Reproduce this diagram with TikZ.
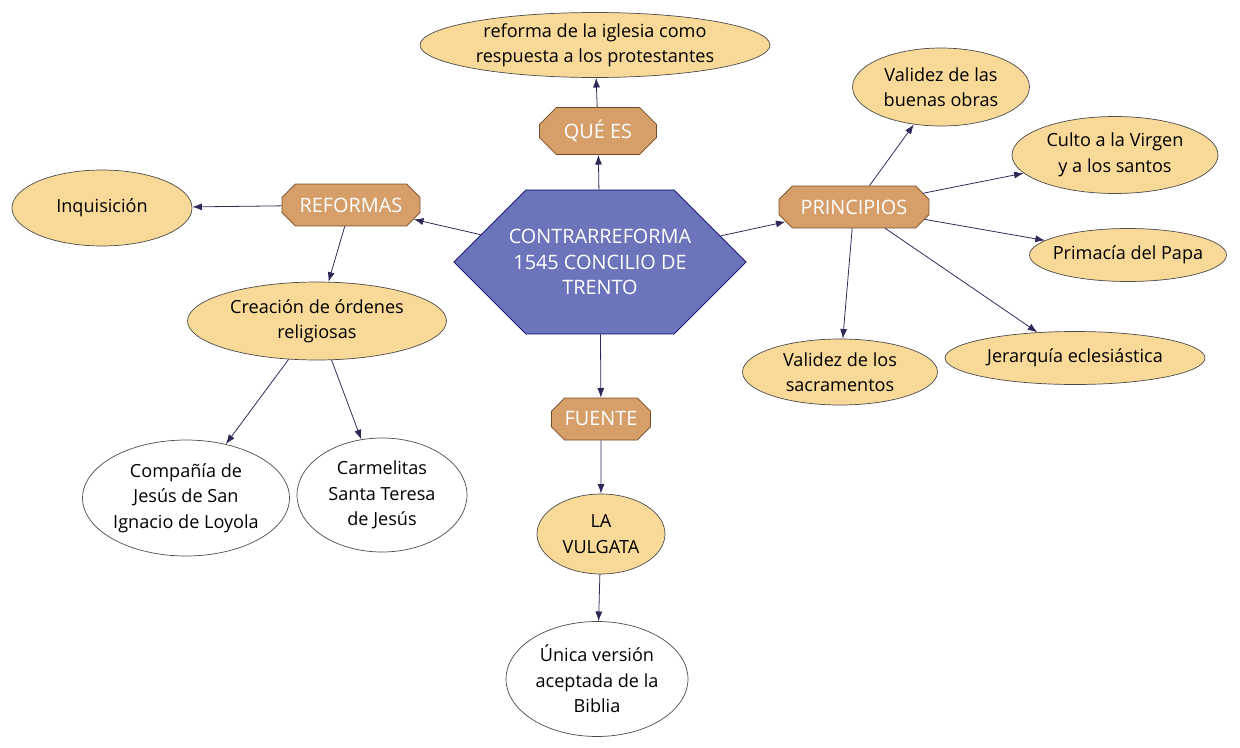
\documentclass[tikz,border=0pt]{standalone}
\usepackage{fontspec}
\setmainfont{Open Sans}
\usetikzlibrary{shapes.geometric,shapes.misc,shapes.symbols,arrows.meta}
\definecolor{arena}{HTML}{F8D998}
\definecolor{tostado}{HTML}{D69F6A}
\definecolor{lila}{HTML}{6C75BB}
\definecolor{tinta}{HTML}{2E2858}
\begin{document}
\begin{tikzpicture}[x=0.02cm,y=-0.02cm,
  idea/.style={ellipse,draw=black!70,fill=arena,inner sep=0pt,align=center,font=\fontsize{10.3}{14.5}\selectfont},
  nota/.style={idea,fill=white},
  enlace/.style={chamfered rectangle,chamfered rectangle xsep=0.28cm,chamfered rectangle ysep=0.12cm,
    draw=brown!60!black,fill=tostado,text=white,inner sep=0pt,font=\fontsize{11.3}{14.5}\selectfont},
  flecha/.style={draw=tinta,line width=0.45pt,-{Latex[length=5.5pt,width=4pt]}}]
\useasboundingbox (0,0) rectangle (1240,747);

\node[signal,signal to=west and east,signal pointer angle=90,draw=blue!40!black,fill=lila,text=white,
  minimum height=2.88cm,inner ysep=0pt,inner xsep=-0.34cm,align=center,
  font=\fontsize{11.3}{14.5}\selectfont] (centro) at (600,262) {CONTRARREFORMA\\1545 CONCILIO DE\\TRENTO};

\node[enlace,minimum width=2.34cm,minimum height=0.94cm] (quees) at (598,131) {QUÉ ES};
\node[enlace,minimum width=2.76cm,minimum height=0.84cm] (reformas) at (351,205) {REFORMAS};
\node[enlace,minimum width=1.98cm,minimum height=0.84cm] (fuente) at (601,419) {FUENTE};
\node[enlace,minimum width=3.0cm,minimum height=0.84cm] (principios) at (854,207) {PRINCIPIOS};

\node[idea,minimum width=7cm,minimum height=1.3cm] (respuesta) at (595,45) {reforma de la iglesia como\\respuesta a los protestantes};
\node[idea,minimum width=3.6cm,minimum height=1.52cm] (inquisicion) at (102,208) {Inquisición};
\node[idea,minimum width=5.18cm,minimum height=1.56cm] (ordenes) at (317,321) {Creación de órdenes\\religiosas};
\node[nota,minimum width=4.14cm,minimum height=2.32cm] (compania) at (186,498) {Compañía de\\Jesús de San\\Ignacio de Loyola};
\node[nota,minimum width=3.4cm,minimum height=2.28cm] (carmelitas) at (382,495) {Carmelitas\\Santa Teresa\\de Jesús};
\node[idea,minimum width=2.56cm,minimum height=1.6cm] (vulgata) at (601,534) {LA\\VULGATA};
\node[nota,minimum width=3.64cm,minimum height=2.3cm] (biblia) at (597,679) {Única versión\\aceptada de la\\Biblia};
\node[idea,minimum width=3.54cm,minimum height=1.56cm] (obras) at (941,87) {Validez de las\\buenas obras};
\node[idea,minimum width=4.12cm,minimum height=1.54cm] (culto) at (1115,155) {Culto a la Virgen\\y a los santos};
\node[idea,minimum width=3.94cm,minimum height=1.06cm,inner xsep=-0.12cm] (papa) at (1128,255) {Primacía del Papa};
\node[idea,minimum width=5.2cm,minimum height=1.06cm] (jerarquia) at (1075,358) {Jerarquía eclesiástica};
\node[idea,minimum width=3.9cm,minimum height=1.32cm] (sacramentos) at (840,372) {Validez de los\\sacramentos};

\draw[flecha] (centro) -- (quees);
\draw[flecha] (quees) -- (respuesta);
\draw[flecha] (centro) -- (reformas);
\draw[flecha] (reformas) -- (inquisicion);
\draw[flecha] (reformas) -- (ordenes);
\draw[flecha] (ordenes) -- (compania);
\draw[flecha] (ordenes) -- (carmelitas);
\draw[flecha] (centro) -- (fuente);
\draw[flecha] (fuente) -- (vulgata);
\draw[flecha] (vulgata) -- (biblia);
\draw[flecha] (centro) -- (principios);
\draw[flecha] (principios) -- (obras);
\draw[flecha] (principios) -- (culto);
\draw[flecha] (principios) -- (papa);
\draw[flecha] (principios) -- (jerarquia);
\draw[flecha] (principios) -- (sacramentos);
\end{tikzpicture}
\end{document}
